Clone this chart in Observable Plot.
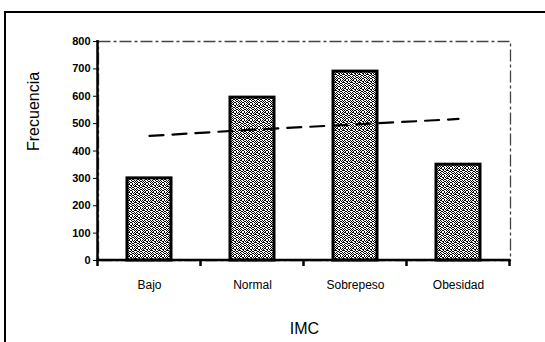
<!DOCTYPE html>
<html>
<head>
<meta charset="utf-8">
<script src="https://cdn.jsdelivr.net/npm/d3@7"></script>
<script src="https://cdn.jsdelivr.net/npm/@observablehq/plot@0.6"></script>
<style>
  html, body { margin: 0; padding: 0; background: #fff; }
  #wrap { position: relative; width: 545px; height: 342px; overflow: hidden; }
  #wrap .edge-top { position: absolute; left: 5px; top: 11px; width: 540px; height: 0; border-top: 2px solid #000; }
  #wrap .edge-left { position: absolute; left: 4px; top: 11px; width: 0; height: 331px; border-left: 2px solid #000; }
  svg { font-family: "Liberation Sans", Arial, sans-serif; }
</style>
</head>
<body>
<div id="wrap"><div class="edge-top"></div><div class="edge-left"></div></div>
<script>
// Frecuencia por categoría de IMC
const categorias = ["Bajo", "Normal", "Sobrepeso", "Obesidad"];
const frecuencias = [300, 595, 690, 350];
// línea de tendencia (discontinua) sobre las barras
const tendencia = [455, 478, 497, 517];
const yTicks = [0, 100, 200, 300, 400, 500, 600, 700, 800];

const datos = categorias.map((c, i) => ({imc: c, frec: frecuencias[i], tend: tendencia[i]}));

const padInner = 0.57;

// ejes: línea vertical, línea base y divisiones del eje X entre categorías
const ejes = (index, {x, y}) => {
  const dom = x.domain();
  const bw = typeof x.bandwidth === "function" ? x.bandwidth() : x.bandwidth;
  const step = x(dom[1]) - x(dom[0]);
  const gap = (step - bw) / 2;
  const pos = dom.map(c => x(c) - gap).concat([x(dom[dom.length - 1]) + bw + gap]);
  const g = d3.create("svg:g").attr("stroke", "#000").attr("stroke-width", 2.5);
  const y0 = y(0);
  const x0 = pos[0];
  const x1 = pos[pos.length - 1];
  g.append("line").attr("x1", x0).attr("x2", x0).attr("y1", y(800) - 1).attr("y2", y0 + 1);
  g.append("line").attr("x1", x0 - 1).attr("x2", x1 + 1).attr("y1", y0).attr("y2", y0);
  for (const p of pos) {
    g.append("line").attr("x1", p).attr("x2", p).attr("y1", y0).attr("y2", y0 + 6);
  }
  return g.node();
};

const chart = Plot.plot({
  width: 545,
  height: 342,
  marginLeft: 98,
  marginRight: 35,
  marginTop: 41,
  marginBottom: 82,
  style: {fontFamily: "'Liberation Sans', Arial, sans-serif", background: "transparent", color: "#000"},
  x: {domain: categorias, paddingInner: padInner, paddingOuter: padInner / 2, label: null},
  y: {domain: [0, 800], label: null},
  marks: [
    Plot.frame({stroke: "#444", strokeWidth: 1.3, strokeDasharray: "12,3,3,3"}),
    Plot.barY(datos, {x: "imc", y: "frec", fill: "url(#punteado)", stroke: "#000", strokeWidth: 3}),
    Plot.line(datos, {x: "imc", y: "tend", stroke: "#000", strokeWidth: 2.2, strokeDasharray: "14,9"}),
    ejes,
    Plot.axisY({ticks: yTicks, tickSize: 5, tickPadding: 3, fontSize: 11, fontWeight: "bold", tickFormat: d => d, label: null}),
    Plot.axisX({tickSize: 0, tickPadding: 20, fontSize: 12, label: null}),
    Plot.text(["Frecuencia"], {frameAnchor: "left", dx: -65, rotate: -90, fontSize: 16, fill: "#000", text: d => d}),
    Plot.text(["IMC"], {frameAnchor: "bottom", dy: 73, fontSize: 16, fill: "#000", text: d => d})
  ]
});

// textura punteada para el relleno de las barras
const ns = "http://www.w3.org/2000/svg";
const defs = document.createElementNS(ns, "defs");
const pat = document.createElementNS(ns, "pattern");
pat.setAttribute("id", "punteado");
pat.setAttribute("patternUnits", "userSpaceOnUse");
pat.setAttribute("width", 8);
pat.setAttribute("height", 8);
const bg = document.createElementNS(ns, "rect");
bg.setAttribute("width", 8); bg.setAttribute("height", 8); bg.setAttribute("fill", "#fff");
pat.appendChild(bg);
const puntos = [
  [0,0],[1,0],[4,0],[6,0],[2,1],[3,1],[5,1],[7,1],[0,2],[3,2],[6,2],[7,2],
  [1,3],[2,3],[4,3],[5,3],[0,4],[3,4],[6,4],[1,5],[4,5],[5,5],[7,5],
  [2,6],[3,6],[6,6],[0,6],[1,7],[4,7],[7,7]
];
for (const [px, py] of puntos) {
  const r = document.createElementNS(ns, "rect");
  r.setAttribute("x", px); r.setAttribute("y", py);
  r.setAttribute("width", 1); r.setAttribute("height", 1);
  r.setAttribute("fill", "#000");
  pat.appendChild(r);
}
defs.appendChild(pat);
chart.insertBefore(defs, chart.firstChild);

chart.style.position = "absolute";
chart.style.left = "0";
chart.style.top = "0";
document.getElementById("wrap").appendChild(chart);
</script>
</body>
</html>
